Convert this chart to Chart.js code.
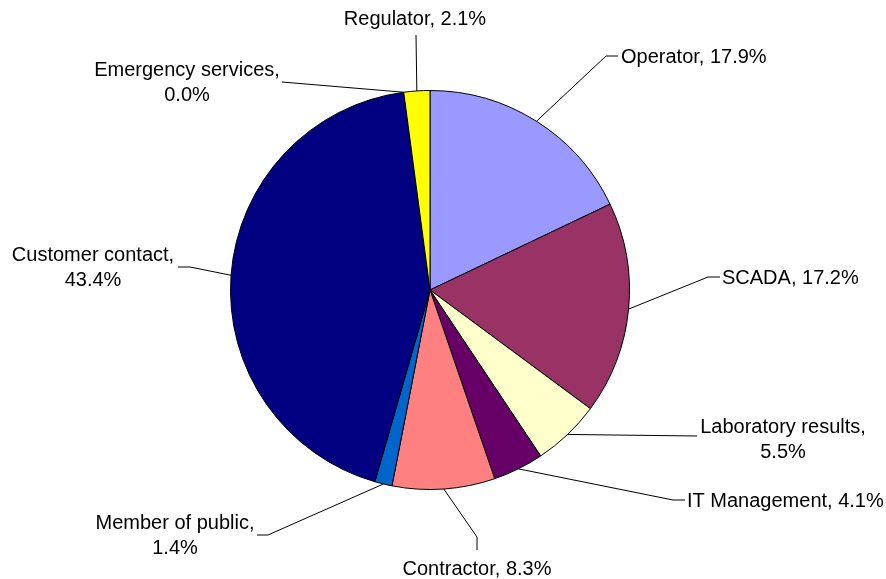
<!DOCTYPE html>
<html>
<head>
<meta charset="utf-8">
<script src="https://cdn.jsdelivr.net/npm/chart.js@4/dist/chart.umd.min.js"></script>
<style>
  html, body { margin: 0; padding: 0; background: #fff; }
  #wrap { width: 886px; height: 579px; }
</style>
</head>
<body>
<div id="wrap"><canvas id="sourceChart" width="886" height="579"></canvas></div>
<script>
const categories = ['Operator', 'SCADA', 'Laboratory results', 'IT Management', 'Contractor',
                    'Member of public', 'Customer contact', 'Emergency services', 'Regulator'];
const shares = [17.9, 17.2, 5.5, 4.1, 8.3, 1.4, 43.4, 0.0, 2.1];
const sliceColors = ['#9999FF', '#993366', '#FFFFCC', '#660066', '#FF8080',
                     '#0066CC', '#000080', '#CCCCFF', '#FFFF00'];

// Where each label sits and how its leader line bends
const labelLayout = [
  { x: 621, y: 63,  align: 'left',   wrap: false, path: [[606, 56], [618, 56]] },
  { x: 722, y: 284, align: 'left',   wrap: false, path: [[708, 277], [720, 277]] },
  { x: 783, y: 433, align: 'center', wrap: true,  path: [[697, 436]] },
  { x: 687, y: 507, align: 'left',   wrap: false, path: [[673, 500], [685, 500]] },
  { x: 477, y: 575, align: 'center', wrap: false, path: [[477, 537], [477, 550]] },
  { x: 175, y: 529, align: 'center', wrap: true,  path: [[268, 535], [257, 535]] },
  { x: 93,  y: 261, align: 'center', wrap: true,  path: [[190, 267], [178, 267]] },
  { x: 187, y: 76,  align: 'center', wrap: true,  path: [[282, 82]] },
  { x: 415, y: 25,  align: 'center', wrap: false, path: [[416, 35]] }
];

const leaderLabels = {
  id: 'leaderLabels',
  afterDatasetsDraw(chart) {
    const ctx = chart.ctx;
    const arcs = chart.getDatasetMeta(0).data;
    ctx.save();
    ctx.font = '20px "Liberation Sans", Arial, sans-serif';
    ctx.fillStyle = '#000';
    ctx.strokeStyle = '#000';
    ctx.lineWidth = 1;
    ctx.textBaseline = 'alphabetic';
    arcs.forEach((arc, i) => {
      const cfg = labelLayout[i];
      const mid = (arc.startAngle + arc.endAngle) / 2;
      const sx = arc.x + Math.cos(mid) * arc.outerRadius;
      const sy = arc.y + Math.sin(mid) * arc.outerRadius;
      ctx.beginPath();
      ctx.moveTo(sx, sy);
      cfg.path.forEach(p => ctx.lineTo(p[0], p[1]));
      ctx.stroke();

      const value = shares[i].toFixed(1) + '%';
      const lines = cfg.wrap ? [categories[i] + ',', value] : [categories[i] + ', ' + value];
      ctx.textAlign = cfg.align;
      if (cfg.wrap) {
        // second line is centred under the first
        const w = ctx.measureText(lines[0]).width;
        const cx = cfg.align === 'center' ? cfg.x : cfg.x + w / 2;
        ctx.textAlign = 'center';
        ctx.fillText(lines[0], cx, cfg.y);
        ctx.fillText(lines[1], cx, cfg.y + 25);
      } else {
        ctx.fillText(lines[0], cfg.x, cfg.y);
      }
    });
    ctx.restore();
  }
};

new Chart(document.getElementById('sourceChart'), {
  type: 'pie',
  data: {
    labels: categories,
    datasets: [{
      data: shares,
      backgroundColor: sliceColors,
      borderColor: '#000',
      borderWidth: 1
    }]
  },
  options: {
    responsive: false,
    animation: false,
    layout: { padding: { left: 230, right: 256, top: 90, bottom: 89 } },
    plugins: {
      legend: { display: false },
      tooltip: { enabled: false }
    }
  },
  plugins: [leaderLabels]
});
</script>
</body>
</html>
